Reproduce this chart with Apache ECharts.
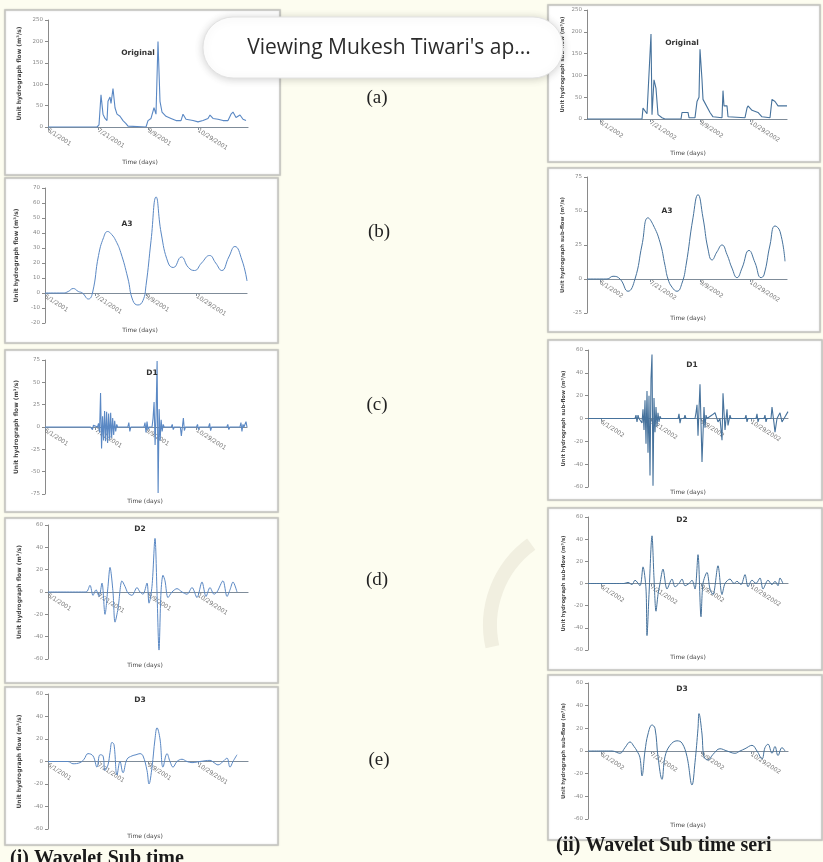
<!DOCTYPE html>
<html><head><meta charset="utf-8">
<script src="https://cdn.jsdelivr.net/npm/echarts@6/dist/echarts.min.js"></script>
<style>html,body{margin:0;padding:0;background:#fdfdf0}#c{width:823px;height:862px}</style>
</head><body><div id="c"></div>
<script>
// ---------- DATA ----------
const dayTicksL = [0, 50, 100, 150];
const dayLabelsL = ['6/1/2001', '7/21/2001', '9/9/2001', '10/29/2001'];
const dayTicksR = [13, 63, 113, 163];
const dayLabelsR = ['6/1/2002', '7/21/2002', '9/9/2002', '10/29/2002'];

// Left column (i) : [day, flow]
const originalL = [[0,0],[49,0],[51,5],[53,75],[55,30],[57,20],[59,15],[60,60],[62,70],[63,55],[65,90],[67,45],[69,30],[72,25],[75,15],[78,8],[80,2],[82,0],[98,0],[100,15],[103,20],[106,45],[108,30],[110,200],[112,60],[114,35],[118,25],[123,20],[128,15],[133,15],[135,30],[138,18],[145,15],[150,12],[155,15],[160,20],[162,28],[165,20],[170,18],[175,15],[180,15],[183,30],[185,35],[188,22],[190,20],[192,28],[195,18],[198,15]];
const a3L = [[0,0],[18,0],[23,1],[28,3],[33,1],[37,0],[43,-4],[47,0],[53,25],[58,37],[62,41],[66,39],[70,35],[75,27],[82,10],[87,-5],[92,-8],[97,-5],[100,5],[105,35],[110,64],[115,40],[122,20],[127,17],[135,24],[142,17],[148,15],[155,20],[163,25],[169,20],[175,15],[182,24],[188,31],[195,22],[200,8]];
const d1L = [[0,0],[45,0],[46,2],[47,-3],[48,2],[49,0],[52,0],[53,4],[54,-6],[55,38],[56,-24],[57,12],[58,-15],[59,18],[60,-16],[61,17],[62,-18],[63,15],[64,-14],[65,16],[66,-12],[67,10],[68,-9],[69,7],[70,-5],[71,3],[72,0],[82,0],[83,5],[84,-5],[85,0],[98,0],[99,5],[100,-6],[101,6],[102,-3],[103,0],[106,0],[107,10],[108,28],[109,-20],[110,15],[111,74],[112,-74],[113,20],[114,-15],[115,8],[116,-5],[117,3],[118,0],[125,0],[126,3],[127,-3],[128,0],[134,0],[135,-10],[136,0],[137,10],[138,-4],[139,0],[150,0],[151,3],[152,-3],[153,0],[162,0],[163,4],[164,-4],[165,0],[180,0],[181,3],[182,-3],[183,0],[193,0],[194,5],[195,-5],[196,3],[197,0],[199,6],[200,0]];
const d2L = [[0,0],[38,0],[42,6],[45,-3],[48,2],[51,-4],[54,8],[57,-20],[60,5],[62,22],[65,0],[67,-27],[70,-15],[74,10],[77,5],[80,-1],[84,-3],[89,4],[92,0],[95,-2],[99,8],[101,-10],[104,5],[107,48],[109,0],[111,-52],[113,0],[115,15],[117,10],[120,-5],[124,0],[129,3],[134,0],[139,-2],[144,4],[149,-5],[154,9],[158,-4],[162,4],[166,-2],[169,0],[175,10],[179,-4],[182,2],[185,9],[189,0]];
const d3L = [[0,0],[20,0],[25,-2],[32,-1],[36,2],[40,7],[45,5],[49,-5],[52,6],[55,5],[57,-8],[60,-3],[62,8],[64,17],[66,15],[69,-12],[72,0],[75,-10],[79,2],[84,5],[88,6],[92,7],[95,5],[99,-8],[101,-20],[104,-5],[107,20],[109,30],[112,20],[115,-5],[119,7],[122,0],[125,-5],[129,0],[134,2],[139,0],[144,-1],[152,0],[162,1],[166,-1],[170,-3],[175,0],[179,3],[182,-5],[185,0],[189,6]];

// Right column (ii) : [day, flow]
const originalR = [[0,0],[55,0],[56,25],[60,12],[61,10],[64,195],[65,10],[67,90],[69,70],[71,10],[75,3],[78,0],[94,0],[95,15],[101,15],[102,3],[108,3],[110,40],[112,50],[113,160],[115,90],[116,45],[123,15],[126,5],[135,3],[136,65],[137,30],[140,30],[141,5],[158,3],[160,25],[161,30],[165,20],[171,15],[175,5],[183,3],[185,45],[188,40],[191,30],[200,30]];
const a3R = [[0,0],[20,0],[26,2],[33,0],[41,-9],[48,0],[55,25],[61,45],[66,40],[73,27],[78,10],[81,0],[85,-6],[90,-9],[95,-3],[99,10],[106,45],[111,62],[116,45],[121,22],[125,14],[130,20],[135,25],[140,18],[145,8],[150,1],[155,8],[162,21],[168,12],[174,1],[177,3],[183,25],[188,39],[193,35],[198,13]];
const d1R = [[0,0],[47,0],[48,3],[49,-3],[50,3],[51,0],[53,0],[54,-4],[55,8],[56,-10],[57,16],[58,-22],[59,24],[60,-30],[61,20],[62,-50],[63,35],[64,56],[65,-59],[66,18],[67,-12],[68,10],[69,-7],[70,5],[71,-3],[72,2],[73,0],[90,0],[91,4],[92,-4],[93,0],[96,0],[97,3],[98,0],[107,0],[108,5],[109,12],[110,-15],[111,8],[112,30],[114,-38],[116,10],[117,-8],[118,3],[119,0],[124,3],[127,5],[130,-3],[132,0],[134,-19],[135,22],[137,-10],[139,8],[140,-6],[142,3],[143,0],[157,0],[158,3],[159,-3],[160,0],[168,0],[169,4],[170,-3],[171,0],[176,0],[177,3],[178,-3],[179,0],[183,0],[184,10],[186,-4],[187,-12],[189,0],[192,5],[194,-3],[196,0],[200,6]];
const d2R = [[0,0],[36,0],[40,1],[44,-1],[47,3],[52,-2],[55,15],[58,-5],[59,-47],[61,-10],[64,43],[66,5],[68,-25],[70,-10],[72,0],[75,13],[79,-5],[84,4],[87,-3],[91,0],[94,4],[97,-2],[101,0],[104,3],[107,-5],[110,26],[113,-30],[115,0],[119,10],[122,-5],[125,-10],[130,16],[134,-10],[137,0],[142,4],[146,0],[149,2],[153,-1],[157,8],[160,-3],[164,3],[168,0],[172,5],[175,-5],[180,3],[184,-1],[187,2],[190,-2],[192,5],[195,0]];
const d3R = [[0,0],[24,0],[32,-2],[37,3],[42,8],[46,4],[49,0],[52,-6],[54,-22],[57,0],[60,15],[64,23],[67,20],[70,-5],[74,-25],[77,-5],[82,5],[89,9],[94,7],[99,-5],[104,-30],[107,-10],[110,20],[111,33],[114,15],[116,-5],[120,-8],[125,-3],[132,2],[139,0],[147,-2],[152,0],[157,2],[164,5],[169,0],[174,-7],[177,3],[180,6],[184,-2],[187,4],[190,-4],[194,3],[197,0]];

const yNameL = 'Unit hydrograph flow (m³/s)';
const yNameR = 'Unit hydrograph sub-flow (m³/s)';
const xName = 'Time (days)';

// ---------- LAYOUT ----------
const panels = [
  {box:[5,10,275,165],  g:[48,20,200,107],  y:[0,250,50],  d:originalL, t:'Original', tp:[138,53], xp:[140,162], side:'L', smooth:false},
  {box:[5,178,273,165], g:[45,188,202,135], y:[-20,70,10], d:a3L, t:'A3', tp:[127,224], xp:[140,330], side:'L', smooth:0.5},
  {box:[5,350,273,162], g:[45,360,202,134], y:[-75,75,25], d:d1L, t:'D1', tp:[152,373], xp:[145,501], side:'L', smooth:false},
  {box:[5,518,273,165], g:[48,525,200,134], y:[-60,60,20], d:d2L, t:'D2', tp:[140,529], xp:[145,665], side:'L', smooth:0.3},
  {box:[5,687,273,158], g:[48,694,200,135], y:[-60,60,20], d:d3L, t:'D3', tp:[140,700], xp:[145,836], side:'L', smooth:0.4},
  {box:[548,5,272,157],   g:[587,10,200,109],  y:[0,250,50],  d:originalR, t:'Original', tp:[682,43], xp:[688,153], side:'R', smooth:false},
  {box:[548,168,272,164], g:[587,177,200,136], y:[-25,75,25], d:a3R, t:'A3', tp:[667,211], xp:[688,318], side:'R', smooth:0.5},
  {box:[548,340,274,160], g:[588,350,200,137], y:[-60,60,20], d:d1R, t:'D1', tp:[692,365], xp:[688,492], side:'R', smooth:false},
  {box:[548,508,274,162], g:[588,517,200,133], y:[-60,60,20], d:d2R, t:'D2', tp:[682,520], xp:[688,657], side:'R', smooth:0.3},
  {box:[548,675,274,165], g:[588,683,200,136], y:[-60,60,20], d:d3R, t:'D3', tp:[682,689], xp:[688,825], side:'R', smooth:0.4}
];

const grid = [], xAxis = [], yAxis = [], series = [], graphic = [];
panels.forEach((p, i) => {
  const ticks = p.side === 'L' ? dayTicksL : dayTicksR;
  const labels = p.side === 'L' ? dayLabelsL : dayLabelsR;
  // distance of the zero line above the grid bottom, so the date axis sits on y = 0
  const zeroUp = (0 - p.y[0]) / (p.y[1] - p.y[0]) * p.g[3];
  graphic.push({type:'rect', z:-5, shape:{x:p.box[0], y:p.box[1], width:p.box[2], height:p.box[3]},
    style:{fill:'#ffffff', stroke:'#c4c4c0', lineWidth:1.5, shadowBlur:2, shadowColor:'rgba(0,0,0,0.15)'}});
  grid.push({left:p.g[0], top:p.g[1], width:p.g[2], height:p.g[3], containLabel:false});
  xAxis.push({type:'value', gridIndex:i, min:0, max:200, position:'bottom', offset:-zeroUp,
    axisLine:{show:true, onZero:false, lineStyle:{color:'#7f8c99', width:1.2}},
    axisTick:{show:true, customValues:ticks, length:3, lineStyle:{color:'#7f8c99'}},
    axisLabel:{show:true, customValues:ticks, rotate:-33, fontSize:6, color:'#777', margin:3,
      fontFamily:'DejaVu Sans', formatter:v => labels[ticks.indexOf(v)] || ''},
    splitLine:{show:false}});
  yAxis.push({type:'value', gridIndex:i, min:p.y[0], max:p.y[1], interval:p.y[2],
    name: p.side === 'L' ? yNameL : yNameR, nameLocation:'middle', nameRotate:90,
    nameGap: p.side === 'L' ? 26 : 22,
    nameTextStyle:{fontSize: p.side === 'L' ? 6 : 5.3, fontWeight:'bold', color:'#444', fontFamily:'DejaVu Sans'},
    axisLine:{show:true, lineStyle:{color:'#8a8a8a', width:1}},
    axisTick:{show:true, length:3, lineStyle:{color:'#8a8a8a'}},
    axisLabel:{fontSize:5.5, color:'#888', margin:5, fontFamily:'DejaVu Sans'},
    splitLine:{show:false}});
  series.push({type:'line', xAxisIndex:i, yAxisIndex:i, data:p.d, showSymbol:false, symbol:'none',
    smooth:p.smooth, clip:true,
    lineStyle:{color: p.side === 'L' ? '#5a88c4' : '#46729c', width: p.smooth ? 1 : 1.1}, z:3});
  graphic.push({type:'text', z:10, x:p.tp[0], y:p.tp[1],
    style:{text:p.t, fontSize:7.5, fontWeight:'bold', fill:'#333', align:'center', verticalAlign:'middle', fontFamily:'DejaVu Sans'}});
  graphic.push({type:'text', z:10, x:p.xp[0], y:p.xp[1],
    style:{text:xName, fontSize:6, fill:'#444', align:'center', verticalAlign:'middle', fontFamily:'DejaVu Sans'}});
});

// watermark arc
graphic.push({type:'arc', z:-8, shape:{cx:590, cy:625, r:100, startAngle:Math.PI*0.93, endAngle:Math.PI*1.3},
  style:{stroke:'#f1efe0', lineWidth:14, fill:null}});

// panel letters
[['(a)',377,98],['(b)',379,232],['(c)',377,405],['(d)',377,580],['(e)',379,760]].forEach(l => {
  graphic.push({type:'text', z:10, x:l[1], y:l[2],
    style:{text:l[0], fontSize:19, fill:'#222', align:'center', verticalAlign:'middle', fontFamily:'Liberation Serif'}});
});

// captions
graphic.push({type:'text', z:10, x:10, y:859, style:{text:'(i) Wavelet Sub time', fontSize:20, fontWeight:'bold', fill:'#1a1a1a', align:'left', verticalAlign:'middle', fontFamily:'Liberation Serif'}});
graphic.push({type:'text', z:10, x:556, y:846, style:{text:'(ii) Wavelet Sub time seri', fontSize:20, fontWeight:'bold', fill:'#1a1a1a', align:'left', verticalAlign:'middle', fontFamily:'Liberation Serif'}});

// popup
graphic.push({type:'rect', z:50, shape:{x:203, y:17, width:360, height:61, r:30},
  style:{fill:'#ffffff', stroke:'#e2e2e2', lineWidth:1, shadowBlur:8, shadowColor:'rgba(0,0,0,0.18)', shadowOffsetY:1}});
graphic.push({type:'text', z:51, x:389, y:48, style:{text:"Viewing Mukesh Tiwari's ap...", fontSize:21, fill:'#2b2b2b', align:'center', verticalAlign:'middle', fontFamily:'Open Sans'}});

const chart = echarts.init(document.getElementById('c'), null, {renderer:'canvas'});
chart.setOption({backgroundColor:'#fdfdf0', animation:false, grid, xAxis, yAxis, series, graphic});
</script></body></html>
